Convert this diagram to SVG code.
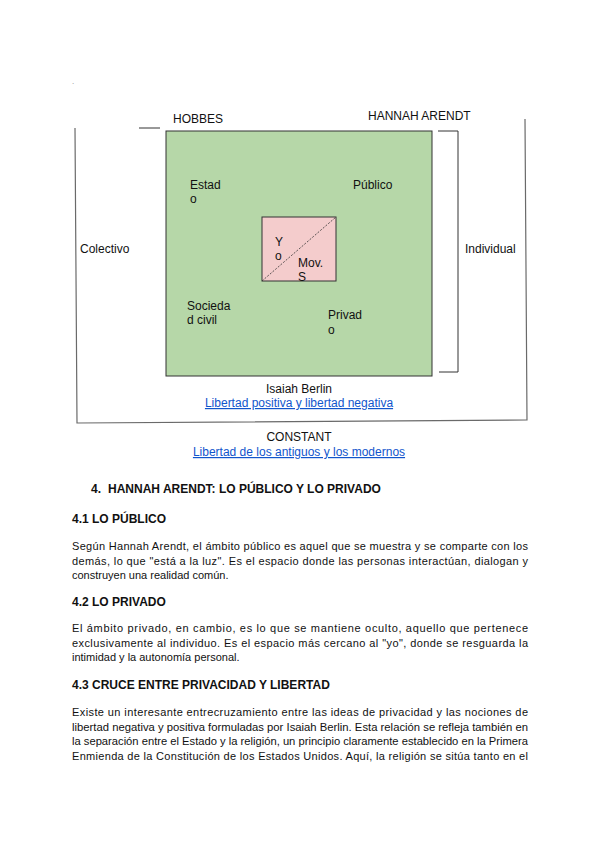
<svg xmlns="http://www.w3.org/2000/svg" width="600" height="848" viewBox="0 0 600 848">
<style>
text{font-family:"Liberation Sans",Arial,sans-serif;fill:#111}
.d{font-size:12px}
.lnk{font-size:12px;fill:#1155cc;text-decoration:underline}
.h{font-size:12px;font-weight:bold}
.p{font-size:11px}
.fr{stroke:#6a6a6a;stroke-width:1.2;fill:none}
.ln{stroke:#333;stroke-width:1;fill:none}
</style>
<rect width="600" height="848" fill="#fff"/>
<text x="72" y="84" style="font-size:8px;fill:#888">.</text>

<g id="connectors">
  <path class="fr" d="M75 128 L77 423 L527 420 L525 119"/>
  <path class="ln" d="M139 128 H160"/>
  <path class="ln" d="M438 131 H458 V372 H439"/>
  <path class="ln" d="M166 251 H262"/>
  <path class="ln" d="M336 249 L432 251.5"/>
</g>

<g id="main-square">
  <rect x="166" y="131" width="266" height="245" fill="#b6d7a8" stroke="#333" stroke-width="1"/>
</g>
<g id="yo-movs">
  <rect x="262" y="217" width="74" height="64" fill="#f4cccc" stroke="#333" stroke-width="1"/>
  <line x1="262" y1="281" x2="336" y2="217" stroke="#333" stroke-width="0.8" stroke-dasharray="2,1.5"/>
  <text class="d" x="275" y="246">Y</text>
  <text class="d" x="275" y="260">o</text>
  <text class="d" x="298" y="267">Mov.</text>
  <text class="d" x="298" y="281">S</text>
</g>

<g id="hobbes"><text class="d" x="173" y="123">HOBBES</text></g>
<g id="arendt"><text class="d" x="368" y="120">HANNAH ARENDT</text></g>
<g id="estado"><text class="d" x="190" y="189">Estad</text><text class="d" x="190" y="203">o</text></g>
<g id="publico"><text class="d" x="353" y="189">Público</text></g>
<g id="colectivo"><text class="d" x="80" y="253">Colectivo</text></g>
<g id="individual"><text class="d" x="465" y="253">Individual</text></g>
<g id="sociedad"><text class="d" x="187" y="310">Socieda</text><text class="d" x="187" y="324">d civil</text></g>
<g id="privado"><text class="d" x="328" y="319">Privad</text><text class="d" x="328" y="334">o</text></g>
<g id="berlin">
  <text class="d" x="299" y="393" text-anchor="middle">Isaiah Berlin</text>
  <text class="lnk" x="299" y="407" text-anchor="middle">Libertad positiva y libertad negativa</text>
</g>
<g id="constant">
  <text class="d" x="299" y="441" text-anchor="middle">CONSTANT</text>
  <text class="lnk" x="299" y="456" text-anchor="middle">Libertad de los antiguos y los modernos</text>
</g>

<g id="body">
  <text class="h" x="91" y="493">4.</text>
  <text class="h" x="108" y="493">HANNAH ARENDT: LO PÚBLICO Y LO PRIVADO</text>
  <text class="h" x="72" y="523">4.1 LO PÚBLICO</text>
  <text class="p" x="72" y="550" textLength="456" lengthAdjust="spacing">Según Hannah Arendt, el ámbito público es aquel que se muestra y se comparte con los</text>
  <text class="p" x="72" y="564.5" textLength="456" lengthAdjust="spacing">demás, lo que "está a la luz". Es el espacio donde las personas interactúan, dialogan y</text>
  <text class="p" x="72" y="579">construyen una realidad común.</text>
  <text class="h" x="72" y="606">4.2 LO PRIVADO</text>
  <text class="p" x="72" y="632" textLength="456" lengthAdjust="spacing">El ámbito privado, en cambio, es lo que se mantiene oculto, aquello que pertenece</text>
  <text class="p" x="72" y="646.5" textLength="456" lengthAdjust="spacing">exclusivamente al individuo. Es el espacio más cercano al "yo", donde se resguarda la</text>
  <text class="p" x="72" y="661">intimidad y la autonomía personal.</text>
  <text class="h" x="72" y="689">4.3 CRUCE ENTRE PRIVACIDAD Y LIBERTAD</text>
  <text class="p" x="72" y="716" textLength="456" lengthAdjust="spacing">Existe un interesante entrecruzamiento entre las ideas de privacidad y las nociones de</text>
  <text class="p" x="72" y="730.5" textLength="456" lengthAdjust="spacingAndGlyphs">libertad negativa y positiva formuladas por Isaiah Berlin. Esta relación se refleja también en</text>
  <text class="p" x="72" y="745" textLength="456" lengthAdjust="spacingAndGlyphs">la separación entre el Estado y la religión, un principio claramente establecido en la Primera</text>
  <text class="p" x="72" y="759.5" textLength="456" lengthAdjust="spacing">Enmienda de la Constitución de los Estados Unidos. Aquí, la religión se sitúa tanto en el</text>
</g>
</svg>
